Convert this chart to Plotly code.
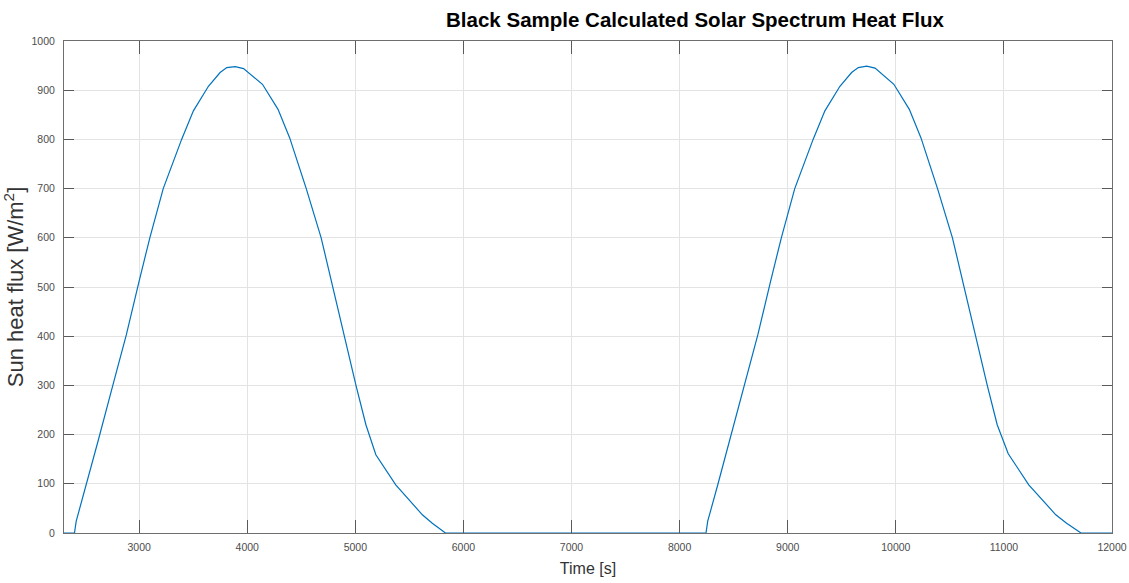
import plotly.graph_objects as go

# Time [s] and sun heat flux [W/m^2]
time_s = [2305, 2402, 2418, 2511, 2619, 2759, 2882, 3000, 3099, 3223, 3393, 3502, 3641, 3749, 3811,
          3889, 3966, 4141, 4285, 4393, 4546, 4684, 4791, 4899, 5006, 5098, 5190, 5374, 5620, 5712, 5834,
          8244, 8260, 8353, 8461, 8601, 8724, 8842, 8941, 9065, 9235, 9344, 9483, 9591, 9653,
          9731, 9808, 9982, 10125, 10233, 10386, 10524, 10631, 10739, 10846, 10938, 11040, 11230, 11480,
          11580, 11713, 12000]
heat_flux = [0, 0, 24, 98, 186, 302, 403, 512, 600, 700, 800, 858, 908, 936, 946,
             948, 944, 912, 861, 803, 700, 600, 500, 400, 300, 220, 159, 98, 37, 20, 0,
             0, 24, 98, 186, 302, 403, 512, 600, 700, 800, 858, 908, 936, 946,
             949, 945, 912, 861, 803, 700, 600, 500, 400, 300, 220, 161, 98, 37,
             20, 0, 0]

x_ticks = [3000, 4000, 5000, 6000, 7000, 8000, 9000, 10000, 11000, 12000]
x_tick_labels = ["3000", "4000", "5000", "6000", "7000", "8000", "9000", "10000", "11000", "12000"]
y_ticks = [0, 100, 200, 300, 400, 500, 600, 700, 800, 900, 1000]

fig = go.Figure()
fig.add_trace(go.Scatter(x=time_s, y=heat_flux, mode="lines",
                         line=dict(color="#0072BD", width=1.2), showlegend=False))

axis_common = dict(
    showline=True, linecolor="#6e6e6e", linewidth=1, mirror="ticks",
    ticks="inside", tickcolor="#5a5a5a", tickwidth=1,
    showgrid=True, gridcolor="#e3e3e3", gridwidth=1, zeroline=False,
    automargin=False,
    tickfont=dict(family="Liberation Sans", size=10.5, color="#4d4d4d"),
)

fig.update_xaxes(range=[2305, 12000], tickvals=x_ticks, ticktext=x_tick_labels, ticklen=13,
                 ticklabelstandoff=4,
                 title=dict(text="Time [s]", font=dict(family="Liberation Sans", size=16, color="#333333"),
                            standoff=11),
                 **axis_common)
fig.update_yaxes(range=[0, 1000], tickvals=y_ticks, ticklen=10, ticklabelstandoff=6,
                 title=dict(text="Sun heat flux [W/m<sup>2</sup>]",
                            font=dict(family="Liberation Sans", size=22, color="#333333"), standoff=12),
                 **axis_common)

fig.update_layout(
    width=1129, height=583,
    margin=dict(l=64, r=17, t=41, b=50, autoexpand=False),
    plot_bgcolor="white", paper_bgcolor="white",
    title=dict(text="<b>Black Sample Calculated Solar Spectrum Heat Flux</b>",
               font=dict(family="Liberation Sans", size=20.5, color="#000000"),
               x=0.6156, xanchor="center", xref="container",
               y=0.966, yanchor="middle", yref="container", automargin=False),
)

fig.write_html("out.html", config={"displayModeBar": False},
               post_script="document.body.style.margin='0';document.body.style.overflow='hidden';")
